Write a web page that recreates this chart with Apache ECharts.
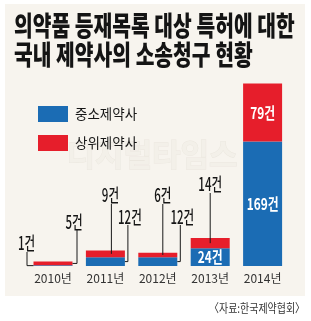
<!DOCTYPE html>
<html><head><meta charset="utf-8">
<script src="https://cdn.jsdelivr.net/npm/echarts@6/dist/echarts.min.js"></script>
<style>html,body{margin:0;padding:0;background:#fff}#c{width:311px;height:321px}</style>
</head><body><div id="c"></div>
<script>
// ---- data ----
const categories = ['2010년', '2011년', '2012년', '2013년', '2014년'];
const smallFirms = [1, 12, 12, 24, 169];   // 중소제약사
const largeFirms = [5, 9, 6, 14, 79];      // 상위제약사
const seriesNames = ['중소제약사', '상위제약사'];
const titleLines = ['의약품 등재목록 대상 특허에 대한', '국내 제약사의 소송청구 현황'];
const sourceText = '〈자료:한국제약협회〉';
const unit = '건';

// ---- styles / layout ----
const BLUE = '#1b6cb4', RED = '#e61e2b';
const BAR_W = 39;
const CJK = '"Noto Sans CJK KR", sans-serif';
// label placement per category (blue / red)
const labelLayout = [
  { blue: { type: 'left', tx: -7, ty: -23 }, red: { type: 'right', tx: 1.5, lx: 4.5, ty: -44 } },
  { blue: { type: 'right', tx: 5, lx: 3, ty: -49 }, red: { type: 'top', tx: 5, lx: 6, ty: -71 } },
  { blue: { type: 'right', tx: 5, lx: 3, ty: -49 }, red: { type: 'top', tx: 5, lx: 5, ty: -71 } },
  { blue: { type: 'inside' }, red: { type: 'top', tx: 0, lx: 0, ty: -82 } },
  { blue: { type: 'inside' }, red: { type: 'inside' } }
];

function txt(x, y, s, opt) {
  return {
    type: 'text', x: x, y: y, scaleX: opt.scaleX || 1,
    style: { text: s, x: 0, y: 0, align: 'center', verticalAlign: 'middle',
      fontSize: opt.size, fontWeight: opt.weight || 'normal', fontFamily: CJK, fill: opt.fill }
  };
}
function line(pts) {
  return { type: 'polyline', shape: { points: pts }, style: { stroke: '#1a1a1a', lineWidth: 1, fill: null } };
}

function renderItem(params, api) {
  const i = api.value(0), b = api.value(1), r = api.value(2);
  const p0 = api.coord([i, 0]);
  const cx = p0[0], y0 = p0[1];
  const yb = api.coord([i, b])[1], yt = api.coord([i, b + r])[1];
  const L = cx - BAR_W / 2, R = cx + BAR_W / 2;
  const children = [];
  const lay = labelLayout[i];
  [['blue', b, y0, yb], ['red', r, yb, yt]].forEach(function (s) {
    const spec = lay[s[0]], v = s[1], segMid = (s[2] + s[3]) / 2;
    const label = v + unit;
    if (spec.type === 'inside') {
      children.push(txt(cx, segMid, label, { size: 16, weight: 'bold', fill: '#fff', scaleX: 0.74 }));
      return;
    }
    const outer = { size: 18, weight: 500, fill: '#161616', scaleX: 0.64 };
    if (spec.type === 'left') {
      const tx = L + spec.tx, ty = y0 + spec.ty;
      children.push(txt(tx, ty, label, outer));
      children.push(line([[tx + 0.5, ty + 9], [tx + 0.5, segMid], [L, segMid]]));
    } else if (spec.type === 'right') {
      const tx = R + spec.tx, ty = y0 + spec.ty, lx = R + spec.lx;
      children.push(txt(tx, ty, label, outer));
      children.push(line([[lx, ty + 8], [lx, segMid], [R, segMid]]));
    } else if (spec.type === 'top') {
      const tx = cx + spec.tx, ty = y0 + spec.ty, lx = cx + spec.lx;
      children.push(txt(tx, ty, label, outer));
      children.push(line([[lx, ty + 9], [lx, segMid]]));
    }
  });
  return { type: 'group', children: children };
}

const chart = echarts.init(document.getElementById('c'), null, { renderer: 'canvas' });
chart.setOption({
  animation: false,
  backgroundColor: '#ffffff',
  graphic: [
    { type: 'rect', z: -100, shape: { x: 5, y: 4, width: 300, height: 292 }, style: { fill: '#f7f4ee' } },
    { type: 'text', z: -50, x: 152, y: 154, style: { text: '디지털타임스', align: 'center', verticalAlign: 'middle',
        fontSize: 31, fontWeight: 'bold', fontFamily: CJK, fill: '#f3f0e9', stroke: '#ebe7df', lineWidth: 1 } },
    { type: 'text', x: 14, y: 25.5, scaleX: 0.74, style: { text: titleLines[0], align: 'left', verticalAlign: 'middle',
        fontSize: 27.5, fontWeight: 900, fontFamily: CJK, fill: '#141414' } },
    { type: 'text', x: 14, y: 55, scaleX: 0.74, style: { text: titleLines[1], align: 'left', verticalAlign: 'middle',
        fontSize: 27.5, fontWeight: 900, fontFamily: CJK, fill: '#141414' } },
    { type: 'text', x: 305, y: 308, scaleX: 0.83, style: { text: sourceText, align: 'right', verticalAlign: 'middle',
        fontSize: 12, fontFamily: CJK, fill: '#333' } }
  ],
  legend: {
    orient: 'vertical', left: 33, top: 101, itemWidth: 30, itemHeight: 16, itemGap: 13,
    icon: 'rect', data: seriesNames,
    textStyle: { fontSize: 13.5, color: '#161616', fontFamily: CJK, padding: [0, 0, 0, 2] }
  },
  grid: { left: 26.8, right: 22.2, top: 82, bottom: 55 },
  xAxis: {
    type: 'category', data: categories,
    axisLine: { show: false }, axisTick: { show: false },
    axisLabel: { color: '#333', fontSize: 12, margin: 6, fontFamily: '"Liberation Sans Narrow", "Noto Sans CJK KR", sans-serif' }
  },
  yAxis: { type: 'value', min: 0, max: 250, show: false, splitLine: { show: false } },
  series: [
    { name: seriesNames[0], type: 'bar', stack: 'total', barWidth: BAR_W, data: smallFirms, itemStyle: { color: BLUE } },
    { name: seriesNames[1], type: 'bar', stack: 'total', barWidth: BAR_W, data: largeFirms, itemStyle: { color: RED } },
    {
      type: 'custom', silent: true, z: 5, renderItem: renderItem,
      encode: { x: 0, y: 1 },
      data: categories.map(function (c, i) { return [i, smallFirms[i], largeFirms[i]]; })
    }
  ]
});
</script></body></html>
